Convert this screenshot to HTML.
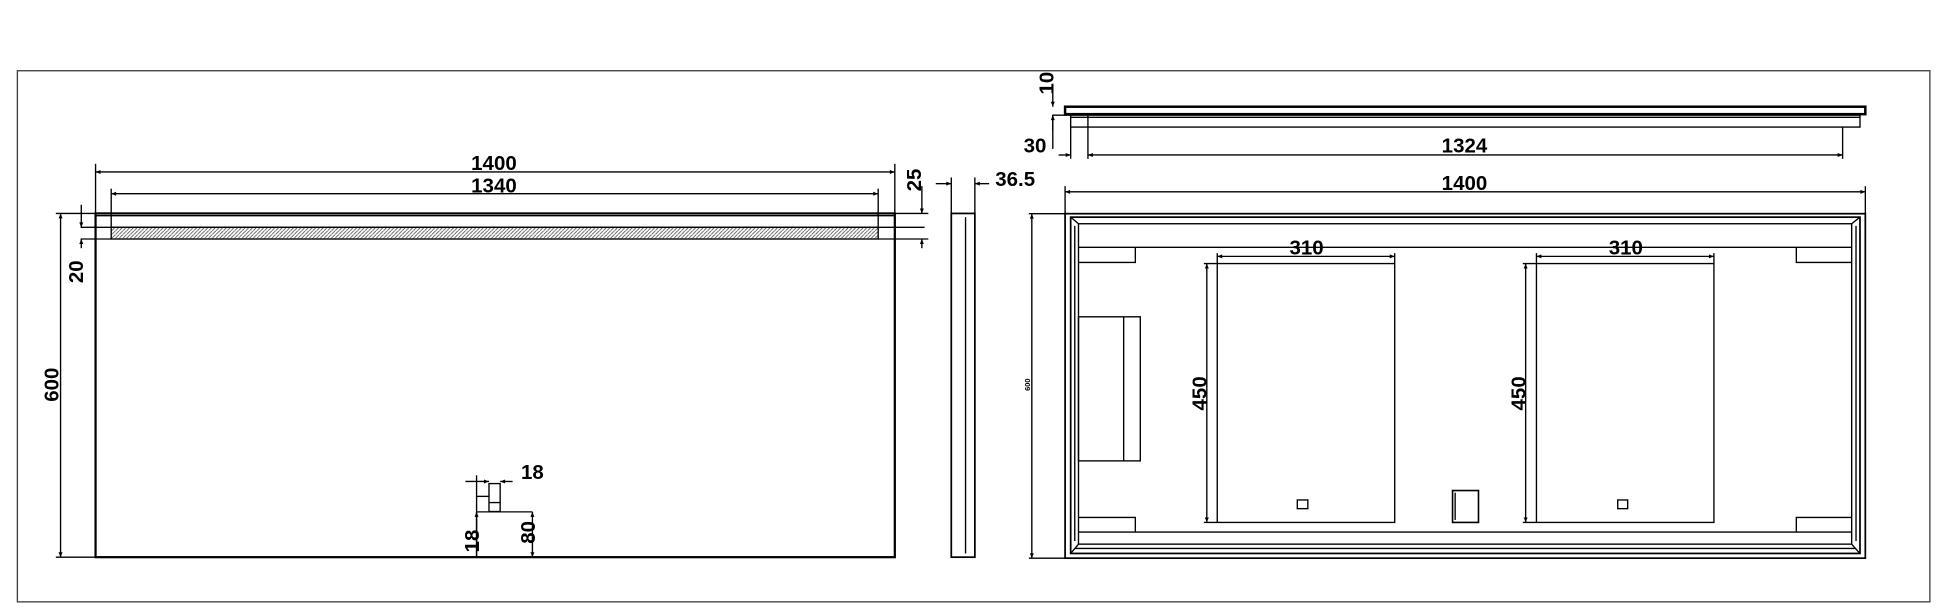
<!DOCTYPE html>
<html><head><meta charset="utf-8"><style>
html,body{margin:0;padding:0;background:#fff;}
svg{display:block;}
text{font-family:"Liberation Sans",sans-serif;fill:#000;font-weight:bold;}
</style></head><body>
<svg width="1946" height="615" viewBox="0 0 1568 495.6" preserveAspectRatio="none" xmlns="http://www.w3.org/2000/svg">
<defs>
<marker id="a" viewBox="0 0 10 10" refX="10" refY="5" markerWidth="7" markerHeight="4" orient="auto-start-reverse" markerUnits="userSpaceOnUse"><path d="M0,1 L10,5 L0,9 z" fill="#000"/></marker>
<pattern id="h" width="3" height="3" patternUnits="userSpaceOnUse"><path d="M0,3 L3,0" stroke="#555" stroke-width="0.7"/></pattern>
</defs>
<g fill="none" stroke="#000" stroke-width="1.1">
<rect x="14" y="57" width="1541" height="428" stroke="#444"/>

<!-- FRONT VIEW -->
<rect x="77" y="172" width="644" height="277" stroke-width="1.8"/>
<line x1="77" y1="173.8" x2="721" y2="173.8"/>
<rect x="89.6" y="183.2" width="618" height="9.4" fill="url(#h)"/>
<line x1="65" y1="183.2" x2="745" y2="183.2"/>
<line x1="65" y1="192.6" x2="89.6" y2="192.6"/>
<line x1="77" y1="132" x2="77" y2="172"/><line x1="721" y1="132" x2="721" y2="172"/>
<line x1="77" y1="138.6" x2="721" y2="138.6" marker-start="url(#a)" marker-end="url(#a)"/>
<line x1="89.6" y1="152" x2="89.6" y2="183"/><line x1="707.6" y1="152" x2="707.6" y2="183"/>
<line x1="89.6" y1="156.1" x2="707.6" y2="156.1" marker-start="url(#a)" marker-end="url(#a)"/>
<line x1="721" y1="172" x2="748" y2="172"/>
<line x1="707.6" y1="192.6" x2="748" y2="192.6"/>
<line x1="742.8" y1="150" x2="742.8" y2="172" marker-end="url(#a)"/>
<line x1="742.8" y1="200" x2="742.8" y2="192.6" marker-end="url(#a)"/>
<line x1="45" y1="172" x2="77" y2="172"/><line x1="45" y1="449" x2="77" y2="449"/>
<line x1="48.8" y1="172" x2="48.8" y2="449" marker-start="url(#a)" marker-end="url(#a)"/>
<line x1="65.5" y1="165" x2="65.5" y2="183.2" marker-end="url(#a)"/>
<line x1="65.5" y1="200" x2="65.5" y2="192.6" marker-end="url(#a)"/>
<rect x="394" y="389.7" width="9" height="22.5"/>
<line x1="394" y1="405" x2="403" y2="405"/>
<line x1="375" y1="388" x2="394" y2="388" marker-end="url(#a)"/>
<line x1="413" y1="388" x2="403" y2="388" marker-end="url(#a)"/>
<line x1="384" y1="383" x2="384" y2="449"/>
<line x1="384" y1="412.5" x2="429" y2="412.5"/>
<line x1="384" y1="400" x2="394" y2="400"/>
<line x1="384" y1="412.5" x2="384" y2="449" marker-start="url(#a)"/>
<line x1="429" y1="412.5" x2="429" y2="449" marker-start="url(#a)" marker-end="url(#a)"/>

<!-- SIDE VIEW -->
<rect x="766.5" y="172" width="19" height="277" stroke-width="1.4"/>
<line x1="778" y1="175" x2="778" y2="446"/>
<line x1="766.5" y1="143" x2="766.5" y2="172"/><line x1="785.5" y1="143" x2="785.5" y2="172"/>
<line x1="754" y1="148" x2="766.5" y2="148" marker-end="url(#a)"/>
<line x1="797" y1="148" x2="785.5" y2="148" marker-end="url(#a)"/>

<!-- TOP VIEW -->
<rect x="858.2" y="86" width="644.8" height="6" stroke-width="2"/>
<rect x="862.7" y="92.8" width="636" height="9.6"/>
<line x1="862.7" y1="94.5" x2="1498.6" y2="94.5"/>
<line x1="848" y1="92.8" x2="862.7" y2="92.8"/>
<line x1="862.7" y1="102.4" x2="862.7" y2="128"/>
<line x1="876.6" y1="92.8" x2="876.6" y2="128"/>
<line x1="1484.7" y1="102.4" x2="1484.7" y2="128"/>
<line x1="848.3" y1="70" x2="848.3" y2="86" marker-end="url(#a)"/>
<line x1="848.3" y1="105" x2="848.3" y2="92.8" marker-end="url(#a)"/>
<line x1="848.3" y1="92.8" x2="848.3" y2="120"/>
<line x1="853" y1="124.9" x2="862.7" y2="124.9" marker-end="url(#a)"/>
<line x1="876.6" y1="124.9" x2="1484.7" y2="124.9" marker-start="url(#a)" marker-end="url(#a)"/>
<line x1="858.2" y1="150" x2="858.2" y2="172"/><line x1="1503" y1="150" x2="1503" y2="172"/>
<line x1="858.2" y1="154.6" x2="1503" y2="154.6" marker-start="url(#a)" marker-end="url(#a)"/>

<!-- BACK VIEW -->
<rect x="858.2" y="172.2" width="644.8" height="277.6" stroke-width="1.4"/>
<rect x="862.7" y="175" width="636" height="271" stroke-width="1.4"/>
<rect x="869" y="180.3" width="623" height="258.2"/>
<line x1="862.7" y1="175" x2="869" y2="180.3"/><line x1="1498.6" y1="175" x2="1492" y2="180.3"/>
<line x1="862.7" y1="446" x2="869" y2="438.5"/><line x1="1498.6" y1="446" x2="1492" y2="438.5"/>
<line x1="866" y1="182" x2="866" y2="436"/><line x1="1495.5" y1="182" x2="1495.5" y2="436"/>
<line x1="866" y1="442" x2="1495" y2="442"/>
<line x1="869" y1="199.3" x2="1492" y2="199.3"/>
<line x1="869" y1="428.8" x2="1492" y2="428.8"/>
<polyline points="869,211.5 914.8,211.5 914.8,199.3"/>
<polyline points="1492,211.5 1447.4,211.5 1447.4,199.3"/>
<polyline points="869,417 914.8,417 914.8,428.8"/>
<polyline points="1492,417 1447.4,417 1447.4,428.8"/>
<rect x="869" y="255.3" width="49.8" height="116.1"/>
<line x1="905.4" y1="255.3" x2="905.4" y2="371.4"/>
<rect x="980.8" y="212.4" width="143" height="208.6"/>
<rect x="1045.3" y="402.9" width="8.5" height="7"/>
<line x1="980.8" y1="204" x2="980.8" y2="212"/><line x1="1123.8" y1="204" x2="1123.8" y2="212"/>
<line x1="980.8" y1="206.6" x2="1123.8" y2="206.6" marker-start="url(#a)" marker-end="url(#a)"/>
<line x1="970" y1="212.4" x2="980.8" y2="212.4"/><line x1="970" y1="421" x2="980.8" y2="421"/>
<line x1="972.4" y1="212.4" x2="972.4" y2="421" marker-start="url(#a)" marker-end="url(#a)"/>
<rect x="1238" y="212.4" width="143" height="208.6"/>
<rect x="1303.5" y="402.9" width="8" height="7"/>
<line x1="1238" y1="204" x2="1238" y2="212"/><line x1="1381" y1="204" x2="1381" y2="212"/>
<line x1="1238" y1="206.6" x2="1381" y2="206.6" marker-start="url(#a)" marker-end="url(#a)"/>
<line x1="1227" y1="212.4" x2="1238" y2="212.4"/><line x1="1227" y1="421" x2="1238" y2="421"/>
<line x1="1229.3" y1="212.4" x2="1229.3" y2="421" marker-start="url(#a)" marker-end="url(#a)"/>
<rect x="1170.4" y="395.3" width="20.9" height="25.7" stroke-width="1.3"/>
<line x1="1172.5" y1="397" x2="1172.5" y2="419"/>
<line x1="829" y1="172.2" x2="858" y2="172.2"/><line x1="829" y1="449.8" x2="858" y2="449.8"/>
<line x1="831.4" y1="172.2" x2="831.4" y2="449.8" marker-start="url(#a)" marker-end="url(#a)"/>
</g>

<g font-size="16.5" text-anchor="middle">
<text x="398" y="137">1400</text>
<text x="398" y="155">1340</text>
<text x="429" y="386">18</text>
<text x="1180" y="123">1324</text>
<text x="1180" y="153">1400</text>
<text x="834" y="123">30</text>
<text x="818" y="150">36.5</text>
<text x="1052.8" y="205">310</text>
<text x="1310" y="205">310</text>
<text transform="translate(47 310) rotate(-90)">600</text>
<text transform="translate(67 219) rotate(-90)">20</text>
<text transform="translate(742 145) rotate(-90)">25</text>
<text transform="translate(386 436) rotate(-90)">18</text>
<text transform="translate(431 429) rotate(-90)">80</text>
<text transform="translate(849 67) rotate(-90)">10</text>
<text transform="translate(972 317) rotate(-90)">450</text>
<text transform="translate(1229 317) rotate(-90)">450</text>
<text transform="translate(830 310) rotate(-90)" font-size="6" font-weight="normal">600</text>
</g>
</svg>
</body></html>
